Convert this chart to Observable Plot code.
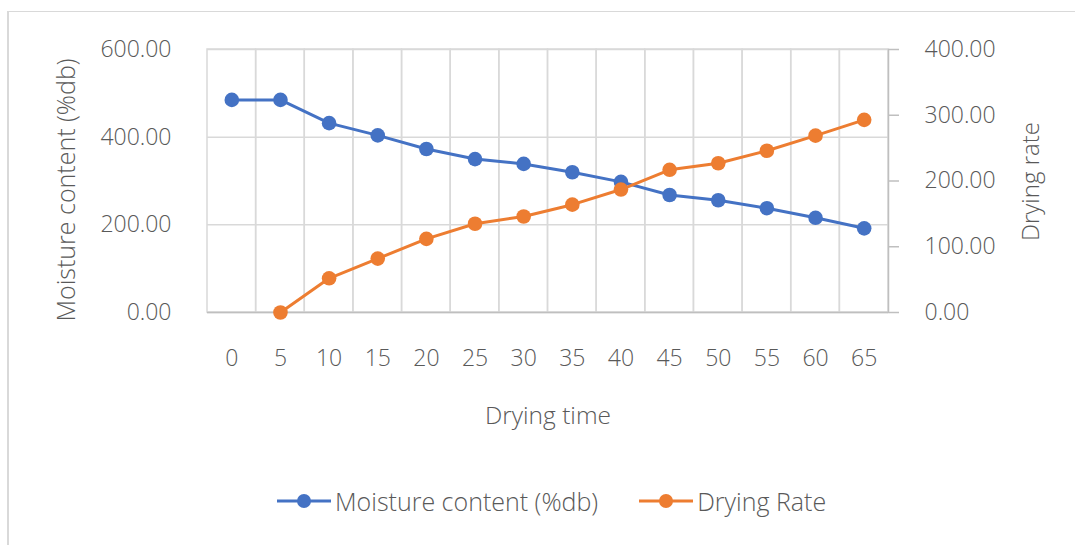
<!DOCTYPE html>
<html>
<head>
<meta charset="utf-8">
<script src="https://cdn.jsdelivr.net/npm/d3@7"></script>
<script src="https://cdn.jsdelivr.net/npm/@observablehq/plot@0.6"></script>
<style>
  html, body { margin: 0; padding: 0; background: #fff; }
  #wrap { position: relative; width: 1075px; height: 545px; overflow: hidden; font-family: "Open Sans", "Noto Sans", sans-serif; font-weight: 300; color: #595959; }
  #border { position: absolute; left: 7px; top: 11px; width: 1200px; height: 600px; border-left: 2px solid #d9d9d9; border-top: 1px solid #d9d9d9; }
  #chart { position: absolute; left: 0; top: 0; }
  .title { position: absolute; font-size: 24px; white-space: nowrap; color: #595959; }
  #ytitle { font-size: 25px; }
  #xtitle { font-size: 24.5px; }
  #legend { position: absolute; left: 277px; top: 484px; display: flex; align-items: center; font-size: 25px; color: #595959; white-space: nowrap; }
  #legend .item { display: flex; align-items: center; margin-right: 41px; }
  #legend svg { display: block; margin-right: 4px; }
</style>
</head>
<body>
<div id="wrap">
  <div id="border"></div>
  <div id="chart"></div>
  <div class="title" id="ytitle">Moisture content (%db)</div>
  <div class="title" id="y2title">Drying rate</div>
  <div class="title" id="xtitle">Drying time</div>
  <div id="legend"></div>
</div>
<script>
// ---- data ----
const dryingTime = [0, 5, 10, 15, 20, 25, 30, 35, 40, 45, 50, 55, 60, 65];
const moistureContent = [485, 485, 432, 404, 373, 350, 339, 320, 298, 268, 256, 238, 216, 192];
const dryingRate = [null, 0, 52, 82, 112, 135, 146, 164, 187, 217, 227, 246, 269, 293];
const leftTicks = [0, 200, 400, 600];
const rightTicks = [0, 100, 200, 300, 400];
const seriesNames = ["Moisture content (%db)", "Drying Rate"];
const seriesColors = ["#4472C4", "#ED7D31"];

const LEFT_MAX = 600, RIGHT_MAX = 400;
const RATIO = LEFT_MAX / RIGHT_MAX;

const rows = dryingTime.map((t, i) => ({t, mc: moistureContent[i], dr: dryingRate[i]}));
const rateRows = rows.filter(d => d.dr != null);

const fmt = d3.format(".2f");
const textStyle = {fontSize: 23, fill: "#595959"};

const chart = Plot.plot({
  width: 1075,
  height: 545,
  marginLeft: 207,
  marginRight: 187,
  marginTop: 49,
  marginBottom: 233,
  style: {fontFamily: "'Open Sans', 'Noto Sans', sans-serif", fontWeight: 300, background: "transparent", overflow: "visible"},
  x: {type: "band", domain: dryingTime, padding: 0, round: false},
  y: {domain: [0, LEFT_MAX]},
  marks: [
    Plot.barY(dryingTime, {x: d => d, y1: 0, y2: LEFT_MAX, fill: "none", stroke: "#D9D9D9", strokeWidth: 1.5}),
    Plot.ruleY(leftTicks, {stroke: "#D9D9D9", strokeWidth: 1.5}),
    Plot.ruleY([0], {stroke: "#BFBFBF", strokeWidth: 1.5}),
    Plot.frame({anchor: "right", stroke: "#BFBFBF", strokeWidth: 1.5}),
    Plot.axisY({anchor: "left", ticks: leftTicks, tickSize: 0, tickPadding: 36, tickFormat: fmt, label: null, ...textStyle}),
    Plot.axisY({anchor: "right", ticks: rightTicks.map(v => v * RATIO), tickSize: 10, tickPadding: 26,
      stroke: "#BFBFBF", strokeWidth: 1.5, tickFormat: d => fmt(d / RATIO), label: null, textAnchor: "start", ...textStyle}),
    Plot.axisX({anchor: "bottom", tickSize: 0, tickPadding: 37, label: null, ...textStyle}),
    Plot.line(rows, {x: "t", y: "mc", stroke: seriesColors[0], strokeWidth: 3}),
    Plot.line(rateRows, {x: "t", y: d => d.dr * RATIO, stroke: seriesColors[1], strokeWidth: 3}),
    Plot.dot(rows, {x: "t", y: "mc", r: 7.3, fill: seriesColors[0]}),
    Plot.dot(rateRows, {x: "t", y: d => d.dr * RATIO, r: 7.3, fill: seriesColors[1]})
  ]
});
document.getElementById("chart").appendChild(chart);

// axis titles
function place(id, cx, cy, rotate) {
  const el = document.getElementById(id);
  const w = el.offsetWidth, h = el.offsetHeight;
  el.style.left = (cx - w / 2) + "px";
  el.style.top = (cy - h / 2) + "px";
  if (rotate) el.style.transform = "rotate(-90deg)";
}
place("ytitle", 64, 190, true);
place("y2title", 1029, 181, true);
place("xtitle", 548, 414, false);

// legend
const legend = document.getElementById("legend");
seriesNames.forEach((name, i) => {
  const item = document.createElement("div");
  item.className = "item";
  item.innerHTML = `<svg width="54" height="16"><line x1="0" y1="8" x2="54" y2="8" stroke="${seriesColors[i]}" stroke-width="3"/><circle cx="27" cy="8" r="7" fill="${seriesColors[i]}"/></svg><span>${name}</span>`;
  legend.appendChild(item);
});
</script>
</body>
</html>
